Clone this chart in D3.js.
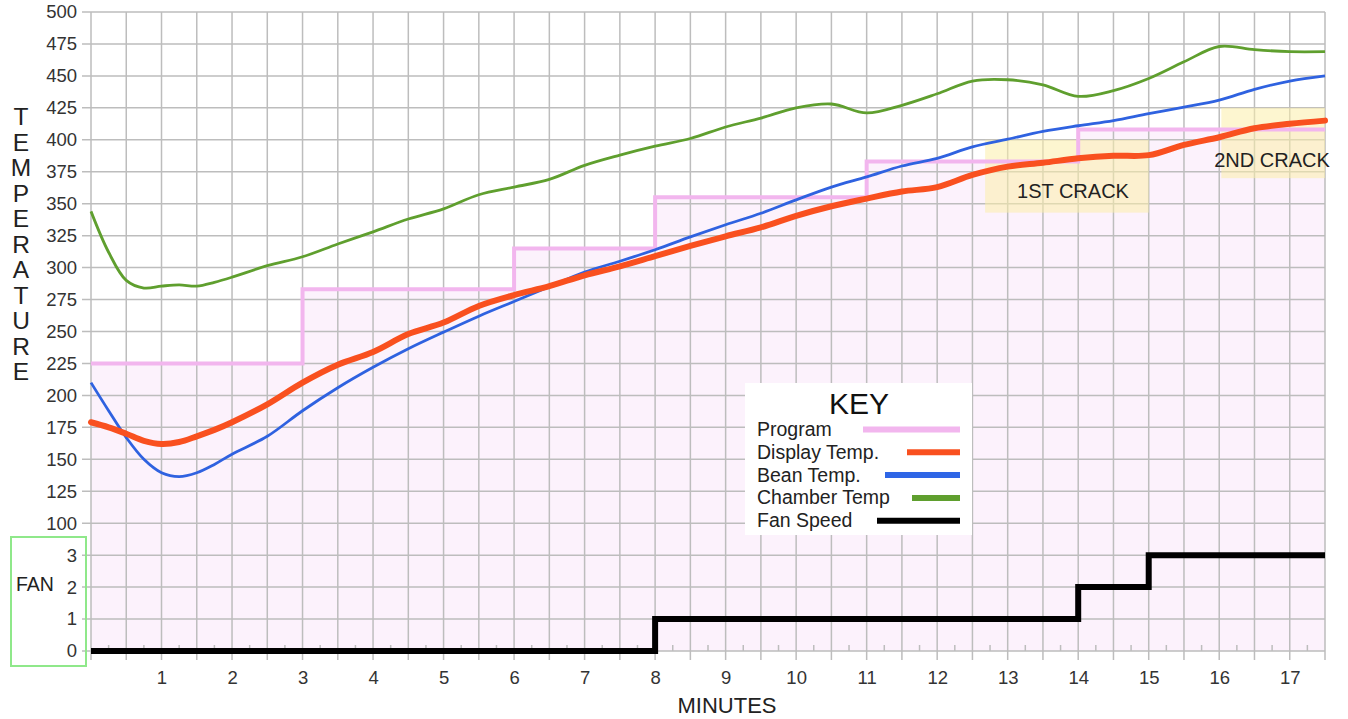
<!DOCTYPE html>
<html>
<head>
<meta charset="utf-8">
<script src="https://cdn.jsdelivr.net/npm/d3@7"></script>
<style>
  html, body { margin: 0; padding: 0; background: #ffffff; }
  svg { display: block; font-family: "Liberation Sans", Arial, sans-serif; }
</style>
</head>
<body>
<svg id="chart" width="1348" height="719"></svg>
<script>
// ---------------- DATA ----------------
const minutes = [0,0.25,0.5,0.75,1,1.25,1.5,1.75,2,2.5,3,3.5,4,4.5,5,5.5,6,6.5,7,7.5,8,8.5,9,9.5,10,10.5,11,11.5,12,12.5,13,13.5,14,14.5,15,15.5,16,16.5,17,17.5];
const chamberTemp = [344,312,290,284,285.5,286.5,285.5,288.5,292.5,301.5,308.5,318.5,328,338,346,357,363,369,380,388,395,401,410,417,425,428,421,427,436,446,447,443,434,438.5,448,461,473,470.5,469,469];
const displayTemp = [179,175,170,164.5,162,163.5,168,173,179,193,210,224,234,248,257,270,278.5,285.5,294,301,309,317,324.5,331.5,340.5,348,354,359.5,363,372.5,379,382,385.5,387.5,388,396,402,409,412.5,415];
const beanTemp = [210,188,167,150,139.5,136.5,139.5,146,154,168,188,206,222,236.5,249.5,262,273.5,285,296.5,305,314,324,333.5,342.5,353,363,371,379.5,385.5,394.5,400.5,406.5,411,415,420.5,425.5,431,439.5,446,450];

const programMinutes = [0,3,6,8,11,14,17.5];
const programTemp = [225,283,315,355,383,408,408];

const fanMinutes = [0,8,14,15,17.5];
const fanSpeed = [0,1,2,3,3];

const tempTicks = [100,125,150,175,200,225,250,275,300,325,350,375,400,425,450,475,500];
const fanTicks = [0,1,2,3];
const minuteTicks = [1,2,3,4,5,6,7,8,9,10,11,12,13,14,15,16,17];

const crackZones = [
  {label: "1ST CRACK", x0: 12.68, x1: 15, y0: 343, y1: 400},
  {label: "2ND CRACK", x0: 16.03, x1: 17.5, y0: 370, y1: 425}
];

const legendItems = [
  {name: "Program", color: "#f2b6ee", width: 6, x0: 863},
  {name: "Display Temp.", color: "#f9501f", width: 6, x0: 907},
  {name: "Bean Temp.", color: "#2f66e6", width: 6, x0: 885},
  {name: "Chamber Temp", color: "#5f9f2e", width: 6, x0: 912},
  {name: "Fan Speed", color: "#000000", width: 6, x0: 877}
];

// ---------------- SCALES ----------------
const svg = d3.select("#chart");
const x = d3.scaleLinear().domain([0, 17.5]).range([91, 1325]);
const y = d3.scaleLinear().domain([0, 500]).range([651, 12]);
const yFan = d3.scaleLinear().domain([0, 3]).range([y(0), y(75)]);

// ---------------- PROGRAM AREA FILL ----------------
const progPts = programMinutes.map((m, i) => [m, programTemp[i]]);
svg.append("path")
  .datum(progPts)
  .attr("d", d3.area().curve(d3.curveStepAfter).x(d => x(d[0])).y0(y(0)).y1(d => y(d[1])))
  .attr("fill", "#fcf2fc");

// ---------------- GRID ----------------
const grid = svg.append("g");
grid.selectAll("line.h").data(d3.range(0, 501, 25)).join("line")
  .attr("x1", 82).attr("x2", x(17.5))
  .attr("y1", d => y(d)).attr("y2", d => y(d))
  .attr("stroke", "#bdbdbd").attr("stroke-width", 1.5);
grid.selectAll("line.v").data(d3.range(0, 17.51, 0.5)).join("line")
  .attr("x1", d => x(d)).attr("x2", d => x(d))
  .attr("y1", y(500)).attr("y2", 660)
  .attr("stroke", "#bdbdbd").attr("stroke-width", 1.5);
grid.selectAll("line.minor").data(d3.range(0.25, 17.5, 0.5)).join("line")
  .attr("x1", d => x(d)).attr("x2", d => x(d))
  .attr("y1", y(0) - 6).attr("y2", y(0))
  .attr("stroke", "#bdbdbd").attr("stroke-width", 1.5);

// ---------------- CRACK ZONES ----------------
crackZones.forEach(z => {
  svg.append("rect")
    .attr("x", x(z.x0)).attr("y", y(z.y1))
    .attr("width", x(z.x1) - x(z.x0)).attr("height", y(z.y0) - y(z.y1))
    .attr("fill", "#fbeeaa").attr("fill-opacity", 0.55);
});

// ---------------- LINES ----------------
const line = d3.line().curve(d3.curveCatmullRom.alpha(0.5)).x(d => x(d[0])).y(d => y(d[1]));

svg.append("path")
  .datum(progPts)
  .attr("d", d3.line().curve(d3.curveStepAfter).x(d => x(d[0])).y(d => y(d[1])))
  .attr("fill", "none").attr("stroke", "#f2b6ee").attr("stroke-width", 4);

svg.append("path")
  .datum(minutes.map((m, i) => [m, chamberTemp[i]]))
  .attr("d", line).attr("fill", "none").attr("stroke", "#5f9f2e").attr("stroke-width", 2.8);

svg.append("path")
  .datum(minutes.map((m, i) => [m, beanTemp[i]]))
  .attr("d", line).attr("fill", "none").attr("stroke", "#2f62e0").attr("stroke-width", 2.8);

svg.append("path")
  .datum(minutes.map((m, i) => [m, displayTemp[i]]))
  .attr("d", line).attr("fill", "none").attr("stroke", "#f9501f").attr("stroke-width", 6)
  .attr("stroke-linecap", "round");

svg.append("path")
  .datum(fanMinutes.map((m, i) => [m, fanSpeed[i]]))
  .attr("d", d3.line().curve(d3.curveStepAfter).x(d => x(d[0])).y(d => yFan(d[1])))
  .attr("fill", "none").attr("stroke", "#000").attr("stroke-width", 6);

// ---------------- CRACK LABELS ----------------
svg.append("text").attr("x", 1073).attr("y", 198).attr("text-anchor", "middle")
  .attr("font-size", 20).attr("fill", "#222").text(crackZones[0].label);
svg.append("text").attr("x", 1272).attr("y", 167).attr("text-anchor", "middle")
  .attr("font-size", 20).attr("fill", "#222").text(crackZones[1].label);

// ---------------- AXES ----------------
const yAxis = svg.append("g").attr("transform", "translate(80,0)")
  .call(d3.axisLeft(y).tickValues(tempTicks).tickSize(0).tickPadding(3));
yAxis.select(".domain").remove();
yAxis.selectAll("text").attr("font-size", 18.5).attr("fill", "#333")
  .attr("font-family", "Liberation Sans, Arial, sans-serif");

const fAxis = svg.append("g").attr("transform", "translate(80,0)")
  .call(d3.axisLeft(yFan).tickValues(fanTicks).tickFormat(d3.format("d")).tickSize(0).tickPadding(3));
fAxis.select(".domain").remove();
fAxis.selectAll("text").attr("font-size", 18.5).attr("fill", "#333")
  .attr("font-family", "Liberation Sans, Arial, sans-serif");

const xAxis = svg.append("g").attr("transform", "translate(0,668)")
  .call(d3.axisBottom(x).tickValues(minuteTicks).tickFormat(d3.format("d")).tickSize(0).tickPadding(3));
xAxis.select(".domain").remove();
xAxis.selectAll("text").attr("font-size", 18.5).attr("fill", "#333")
  .attr("font-family", "Liberation Sans, Arial, sans-serif");

// axis titles
svg.append("text").attr("x", 727).attr("y", 713).attr("text-anchor", "middle")
  .attr("font-size", 22).attr("fill", "#222").text("MINUTES");

const tLetters = "TEMPERATURE".split("");
svg.append("g").selectAll("text").data(tLetters).join("text")
  .attr("x", 21).attr("y", (d, i) => 125 + i * 25.5)
  .attr("text-anchor", "middle").attr("font-size", 24.5).attr("fill", "#222")
  .text(d => d);

// FAN box
svg.append("rect").attr("x", 11).attr("y", 537).attr("width", 75).attr("height", 129)
  .attr("fill", "none").attr("stroke", "#8fe88a").attr("stroke-width", 2);
svg.append("text").attr("x", 16).attr("y", 591).attr("font-size", 19.5).attr("fill", "#222").text("FAN");

// ---------------- LEGEND ----------------
const lg = svg.append("g");
lg.append("rect").attr("x", 745).attr("y", 383).attr("width", 227).attr("height", 152).attr("fill", "#fff");
lg.append("text").attr("x", 859).attr("y", 414).attr("text-anchor", "middle")
  .attr("font-size", 30).attr("fill", "#111").text("KEY");
legendItems.forEach((it, i) => {
  const base = 436 + i * 22.8;
  lg.append("text").attr("x", 757).attr("y", base).attr("font-size", 19.5).attr("fill", "#222").text(it.name);
  lg.append("line").attr("x1", it.x0).attr("x2", 960)
    .attr("y1", base - 6.5).attr("y2", base - 6.5)
    .attr("stroke", it.color).attr("stroke-width", it.width);
});
</script>
</body>
</html>
